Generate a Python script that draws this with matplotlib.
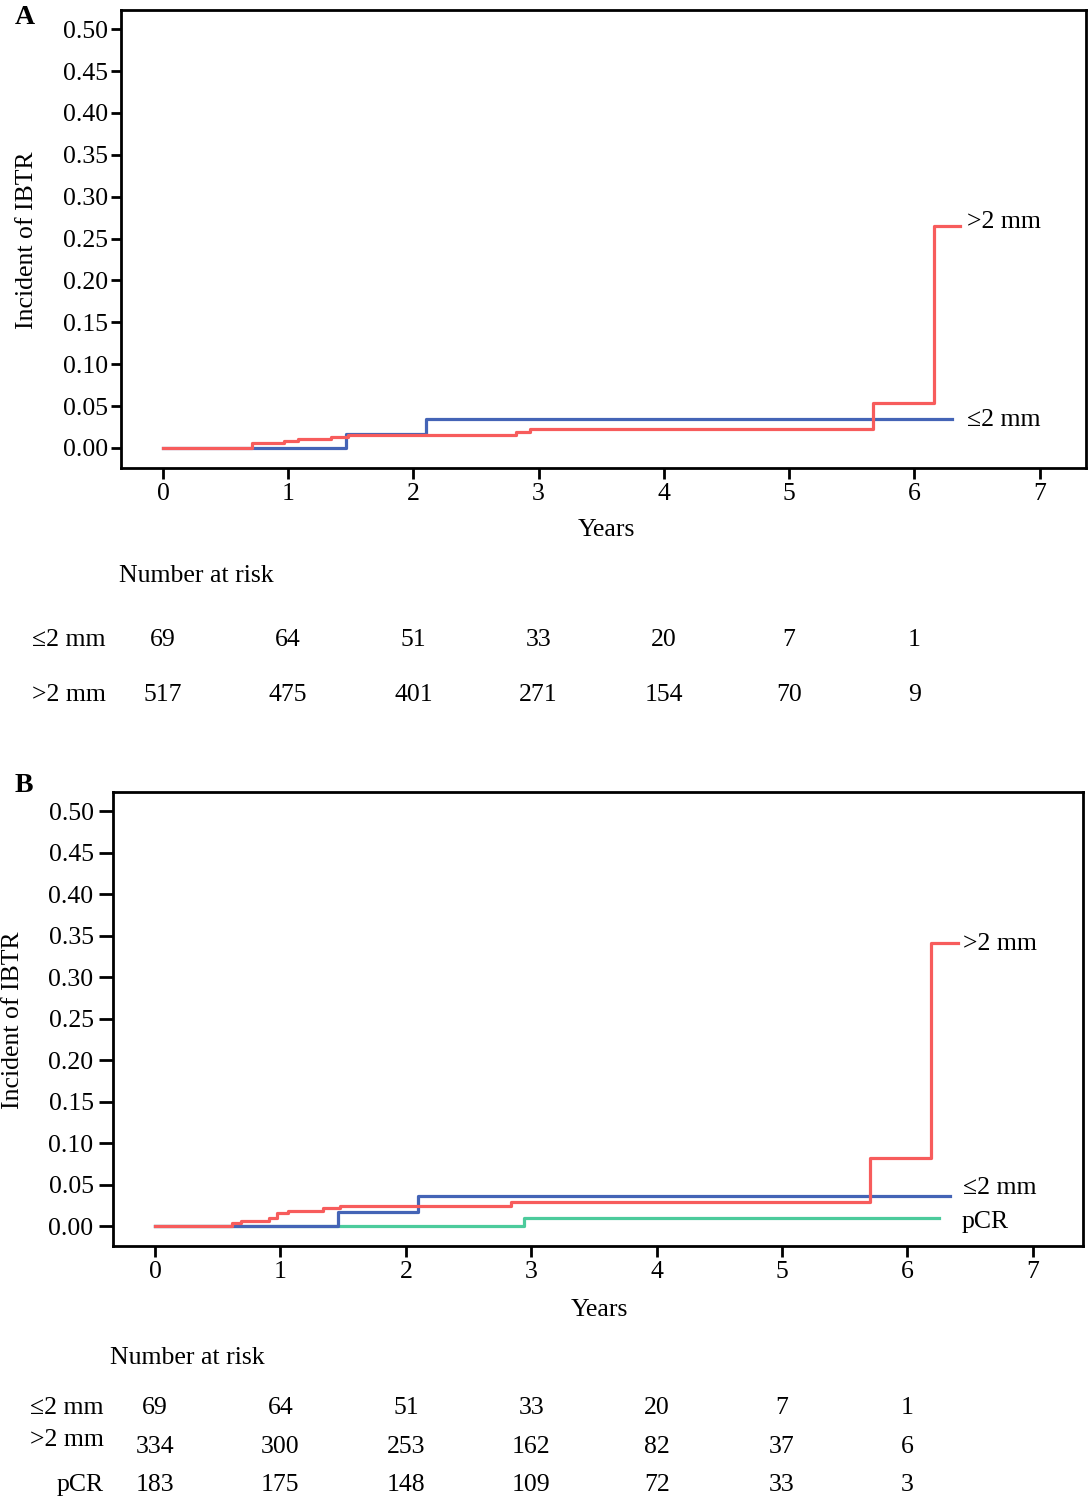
import numpy as np
import matplotlib
matplotlib.use('Agg')
import matplotlib.pyplot as plt
import matplotlib.transforms as mtransforms

plt.rcParams['font.family'] = ['Liberation Serif', 'DejaVu Serif']

# ---- data ----
years = [0, 1, 2, 3, 4, 5, 6, 7]
yticks = [0.00, 0.05, 0.10, 0.15, 0.20, 0.25, 0.30, 0.35, 0.40, 0.45, 0.50]

# panel A
a_le2_t = [0, 1.465, 2.10, 6.30]
a_le2_v = [0, 0.0167, 0.0345, 0.0345]
a_gt2_t = [0, 0.71, 0.97, 1.08, 1.345, 1.48, 2.82, 2.93, 5.67, 6.16, 6.36]
a_gt2_v = [0, 0.0056, 0.0087, 0.011, 0.0135, 0.016, 0.0188, 0.0224, 0.0535, 0.265, 0.265]
a_risk_le2 = [69, 64, 51, 33, 20, 7, 1]
a_risk_gt2 = [517, 475, 401, 271, 154, 70, 9]

# panel B
b_le2_t = [0, 1.46, 2.10, 6.34]
b_le2_v = [0, 0.0172, 0.036, 0.036]
b_gt2_t = [0, 0.61, 0.686, 0.91, 0.975, 1.063, 1.337, 1.475, 2.84, 5.70, 6.19, 6.40]
b_gt2_v = [0, 0.004, 0.0064, 0.0096, 0.0152, 0.0184, 0.0216, 0.0236, 0.0292, 0.0821, 0.341, 0.341]
b_pcr_t = [0, 2.945, 6.25]
b_pcr_v = [0, 0.0092, 0.0092]
b_risk_le2 = [69, 64, 51, 33, 20, 7, 1]
b_risk_gt2 = [334, 300, 253, 162, 82, 37, 6]
b_risk_pcr = [183, 175, 148, 109, 72, 33, 3]

RED = '#f75c5c'
BLUE = '#4464b6'
GREEN = '#4ccb9c'

W, H = 1089, 1500
fig = plt.figure(figsize=(W / 100, H / 100), dpi=100)


def fx(x):
    return x / W


def fy(y):
    return 1 - y / H


def setupAxes(left, top, right, bottom, xmax, ylen, ypad):
    ax = fig.add_axes([fx(left), fy(bottom), fx(right) - fx(left), fy(top) - fy(bottom)])
    ax.set_xlim(-0.335, xmax)
    ax.set_ylim(-0.024, 0.523)
    ax.set_xticks(years)
    ax.set_yticks(yticks)
    ax.set_yticklabels(['%.2f' % v for v in yticks])
    for s in ax.spines.values():
        s.set_linewidth(2)
    ax.tick_params(axis='y', length=ylen, width=2, labelsize=fs, pad=ypad)
    ax.tick_params(axis='x', length=8, width=2, labelsize=fs, pad=3)
    return ax


fs = 18.5

# ---------------- panel A ----------------
axA = setupAxes(121, 10, 1086, 468, 7.37, 7, 2)
axA.step(a_le2_t, a_le2_v, where='post', color=BLUE, lw=2.3)
axA.step(a_gt2_t, a_gt2_v, where='post', color=RED, lw=2.3)
axA.text(6.42, 0.270, '>2 mm', fontsize=fs, va='center', ha='left')
axA.text(6.42, 0.0335, '≤2 mm', fontsize=fs, va='center', ha='left')
fig.text(fx(27), fy(240), 'Incident of IBTR', rotation=90, fontsize=fs, ha='center', va='center')
fig.text(fx(606), fy(530), 'Years', fontsize=fs, ha='center', va='center')
fig.text(fx(25), fy(18), 'A', fontsize=20, fontweight='bold', ha='center', va='center')

trA = mtransforms.blended_transform_factory(axA.transData, fig.transFigure)
fig.text(fx(119), fy(576), 'Number at risk', fontsize=fs, ha='left', va='center')
for lab, vals, yy in [('≤2 mm', a_risk_le2, 640), ('>2 mm', a_risk_gt2, 695)]:
    fig.text(fx(106), fy(yy), lab, fontsize=fs, ha='right', va='center')
    for t, v in zip(years, vals):
        axA.text(t, fy(yy), str(v), transform=trA, fontsize=fs, ha='center', va='center')

# ---------------- panel B ----------------
axB = setupAxes(113, 792, 1083, 1246, 7.40, 10, 4)
axB.step(b_pcr_t, b_pcr_v, where='post', color=GREEN, lw=2.3)
axB.step(b_le2_t, b_le2_v, where='post', color=BLUE, lw=2.3)
axB.step(b_gt2_t, b_gt2_v, where='post', color=RED, lw=2.3)
axB.text(6.44, 0.340, '>2 mm', fontsize=fs, va='center', ha='left')
axB.text(6.44, 0.0457, '≤2 mm', fontsize=fs, va='center', ha='left')
axB.text(6.43, 0.0048, 'pCR', fontsize=fs, va='center', ha='left')
fig.text(fx(13), fy(1020), 'Incident of IBTR', rotation=90, fontsize=fs, ha='center', va='center')
fig.text(fx(599), fy(1310), 'Years', fontsize=fs, ha='center', va='center')
fig.text(fx(24), fy(785), 'B', fontsize=20, fontweight='bold', ha='center', va='center')

trB = mtransforms.blended_transform_factory(axB.transData, fig.transFigure)
fig.text(fx(110), fy(1358), 'Number at risk', fontsize=fs, ha='left', va='center')
rowsB = [('≤2 mm', b_risk_le2, 1408, 1408), ('>2 mm', b_risk_gt2, 1440, 1447),
         ('pCR', b_risk_pcr, 1485, 1485)]
for lab, vals, ly, yy in rowsB:
    fig.text(fx(104), fy(ly), lab, fontsize=fs, ha='right', va='center')
    for t, v in zip(years, vals):
        axB.text(t, fy(yy), str(v), transform=trB, fontsize=fs, ha='center', va='center')

fig.savefig('out.png', dpi=100)
